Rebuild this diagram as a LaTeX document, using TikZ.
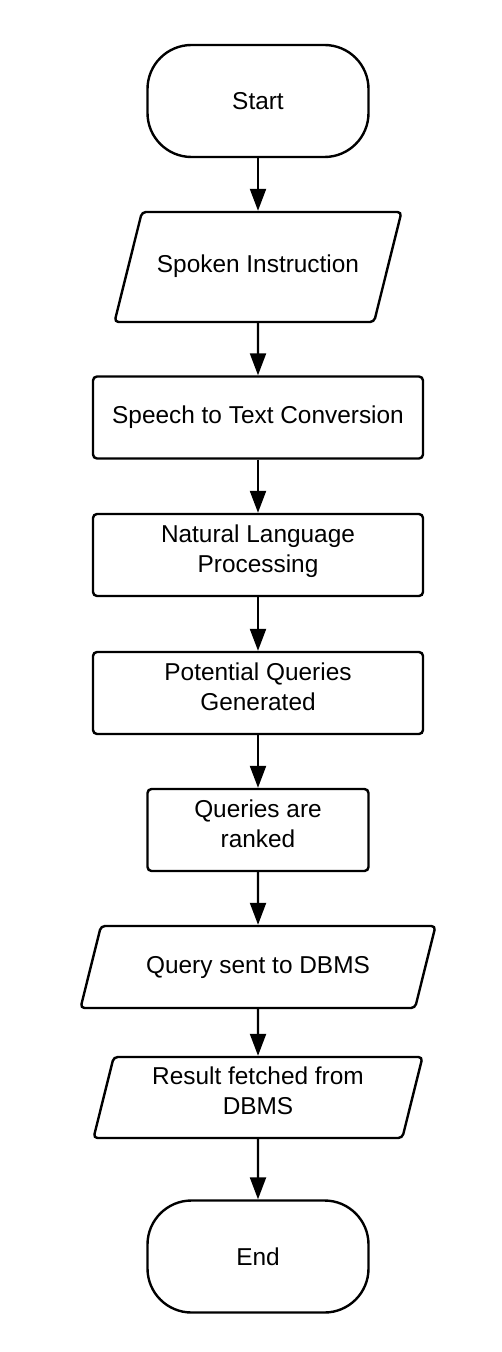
\documentclass[tikz,border=0pt]{standalone}
\usepackage{fontspec}
\setmainfont{Liberation Sans}
\usetikzlibrary{shapes.geometric,arrows.meta}

\begin{document}
\begin{tikzpicture}[x=0.5pt, y=-0.5pt,
		every node/.style={font=\fontsize{12.2}{15}\selectfont, align=center, inner sep=0pt},
		oneline/.style={text height=9pt, text depth=3pt},
		twoline/.style={text height=24pt, text depth=7pt},
		terminal/.style={draw, line width=1.2pt, rounded corners=22pt, minimum width=110.5pt, minimum height=56pt},
		process/.style={draw, line width=1.2pt, rounded corners=2pt, minimum height=41pt},
		io/.style={draw, line width=1.2pt, rounded corners=2pt, shape=trapezium, trapezium left angle=76, trapezium right angle=104, trapezium stretches body},
		flowline/.style={line width=1.1pt, -{Triangle[width=8pt,length=11pt]}}]
	\useasboundingbox (0,0) rectangle (502,1352);
	% terminals, processes and input/output boxes
	\node[terminal] (start) at (258,101) {Start};
	\node[io, oneline, inner ysep=21.5pt, minimum width=143.5pt] (spoken) at (258,267) {Spoken Instruction};
	\node[process, oneline, minimum width=165pt] (speech) at (258,417.5) {Speech to Text Conversion};
	\node[process, twoline, minimum width=165pt] (nlp) at (258,555) {Natural Language\\Processing};
	\node[process, twoline, minimum width=165pt] (potential) at (258,693) {Potential Queries\\Generated};
	\node[process, twoline, minimum width=110.5pt] (ranked) at (258,830) {Queries are\\ranked};
	\node[io, oneline, inner ysep=14.5pt, minimum width=177.5pt] (sent) at (258,967) {Query sent to DBMS};
	\node[io, twoline, inner ysep=4.75pt, minimum width=164.5pt] (fetched) at (258,1097.5) {Result fetched from\\DBMS};
	\node[terminal] (end) at (258,1256.5) {End};
	% connectors
	\draw[flowline] (start) -- (spoken);
	\draw[flowline] (spoken) -- (speech);
	\draw[flowline] (speech) -- (nlp);
	\draw[flowline] (nlp) -- (potential);
	\draw[flowline] (potential) -- (ranked);
	\draw[flowline] (ranked) -- (sent);
	\draw[flowline] (sent) -- (fetched);
	\draw[flowline] (fetched) -- (end);
\end{tikzpicture}
\end{document}
